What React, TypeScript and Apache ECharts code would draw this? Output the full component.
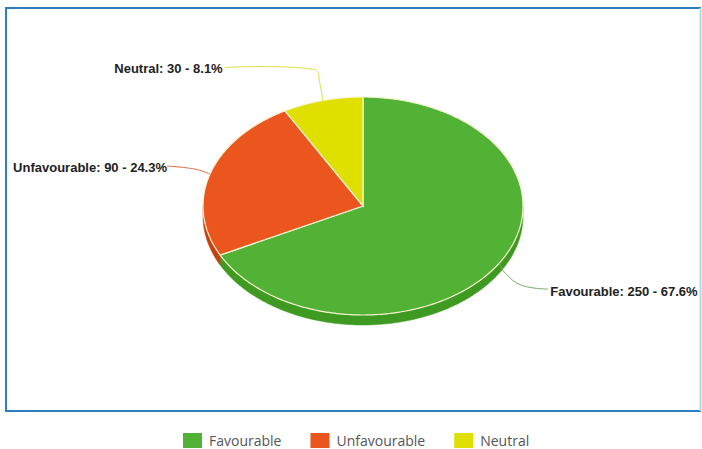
import React, { useEffect, useRef } from "react";
import * as echarts from "echarts";

const categories = ["Favourable", "Unfavourable", "Neutral"];
const values = [250, 90, 30];
const percentLabels = ["67.6%", "24.3%", "8.1%"];
const topColors = ["#52b236", "#ea561e", "#dfe000"];
const sideColors = ["#3f9a22", "#c4420f", "#b8b800"];
const lineColors = ["#78a868", "#e07040", "#e0e040"];

// label layout (pixel offsets relative to anchor on the ellipse rim)
const labelLayout = [
  { pts: [[6, 10], [22, 22], [49, 26]], text: [51, 28], align: "left" },
  { pts: [[-15, -5], [-43, -8]], text: [-43, -7], align: "right" },
  { pts: [[-3, -18], [-8, -31], [-98, -33]], text: [-100, -32], align: "right" },
];

const DEPTH = 10;

export default function App() {
  const ref = useRef<HTMLDivElement>(null);
  useEffect(() => {
    if (!ref.current) return;
    const chart = echarts.init(ref.current, undefined, { renderer: "svg" });
    const total = values.reduce((a, b) => a + b, 0);
    const starts: number[] = [];
    let acc = 0;
    values.forEach((v) => {
      starts.push(acc);
      acc += v;
    });

    const makeRender = (i: number) => (params: any, api: any) => {
      const a1 = (starts[i] / total) * Math.PI * 2;
      const a2 = ((starts[i] + values[i]) / total) * Math.PI * 2;
      const pt = (t: number) => api.coord([Math.sin(t), Math.cos(t)]);
      const center = api.coord([0, 0]);
      const steps = Math.max(4, Math.ceil(((a2 - a1) * 180) / Math.PI));
      const arc: number[][] = [];
      for (let k = 0; k <= steps; k++) arc.push(pt(a1 + ((a2 - a1) * k) / steps));
      const children: any[] = [];
      // side
      const s1 = Math.max(a1, Math.PI / 2);
      const s2 = Math.min(a2, (Math.PI * 3) / 2);
      if (s2 > s1) {
        const n = Math.max(4, Math.ceil(((s2 - s1) * 180) / Math.PI));
        const topPts: number[][] = [];
        for (let k = 0; k <= n; k++) topPts.push(pt(s1 + ((s2 - s1) * k) / n));
        const bottom = topPts.map((p) => [p[0], p[1] + DEPTH]).reverse();
        children.push({
          type: "polygon",
          z2: 0,
          shape: { points: topPts.concat(bottom) },
          style: { fill: sideColors[i], stroke: sideColors[i], lineWidth: 0.5 },
        });
      }
      children.push({
        type: "polygon",
        z2: 10,
        shape: { points: [center].concat(arc) },
        style: { fill: topColors[i], stroke: "#f8f4d0", lineWidth: 1.2 },
      });
      // label
      const mid = (a1 + a2) / 2;
      const anchor = pt(mid);
      const lay = labelLayout[i];
      const linePts = [anchor].concat(lay.pts.map((p) => [anchor[0] + p[0], anchor[1] + p[1]]));
      children.push({
        type: "polyline",
        z2: 20,
        shape: { points: linePts, smooth: 0.4 },
        style: { stroke: lineColors[i], lineWidth: 1, fill: "none" },
      });
      children.push({
        type: "text",
        z2: 20,
        x: anchor[0] + lay.text[0],
        y: anchor[1] + lay.text[1],
        style: {
          text: `${categories[i]}: ${values[i]} - ${percentLabels[i]}`,
          fill: "#222",
          font: "bold 13px 'Liberation Sans', Arial, sans-serif",
          align: lay.align,
          verticalAlign: "middle",
        },
      });
      return { type: "group", children };
    };

    chart.setOption({
      animation: false,
      backgroundColor: "#fff",
      grid: { left: 203, top: 97, width: 320, height: 218 },
      xAxis: { type: "value", min: -1, max: 1, show: false },
      yAxis: { type: "value", min: -1, max: 1, show: false },
      legend: {
        data: categories,
        left: 183,
        top: 433,
        icon: "rect",
        itemWidth: 19,
        itemHeight: 15,
        itemGap: 29,
        padding: 0,
        textStyle: { fontSize: 14, color: "#555", fontFamily: "'Open Sans', sans-serif", padding: [0, 0, 0, 2] },
        selectedMode: false,
      },
      graphic: [
        { type: "line", shape: { x1: 6, y1: 8, x2: 701, y2: 8 }, style: { stroke: "#2e7fbf", lineWidth: 2 } },
        { type: "line", shape: { x1: 6, y1: 7, x2: 6, y2: 412 }, style: { stroke: "#2e7fbf", lineWidth: 2 } },
        { type: "line", shape: { x1: 6, y1: 411, x2: 701, y2: 411 }, style: { stroke: "#2e7fbf", lineWidth: 2 } },
        { type: "line", shape: { x1: 700.5, y1: 8, x2: 700.5, y2: 411 }, style: { stroke: "#a8dcf2", lineWidth: 2 } },
      ],
      series: categories.map((name, i) => ({
        type: "custom",
        name,
        coordinateSystem: "cartesian2d",
        clip: false,
        itemStyle: { color: topColors[i] },
        data: [[0, 0, values[i]]],
        renderItem: makeRender(i),
      })),
    });
    return () => chart.dispose();
  }, []);
  return <div ref={ref} style={{ position: "fixed", left: 0, top: 0, width: 702, height: 449 }} />;
}
